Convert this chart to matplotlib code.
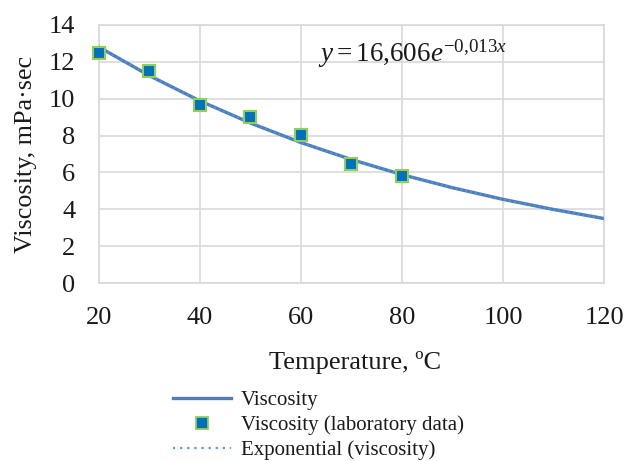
import matplotlib
matplotlib.use("Agg")
import matplotlib.pyplot as plt
from matplotlib.lines import Line2D

plt.rcParams['font.family'] = ['Liberation Serif', 'DejaVu Serif']
plt.rcParams['mathtext.fontset'] = 'custom'
plt.rcParams['mathtext.rm'] = 'Liberation Serif'
plt.rcParams['mathtext.it'] = 'Liberation Serif:italic'

# laboratory data
lab_temp = [20, 30, 40, 50, 60, 70, 80]
lab_visc = [12.5, 11.5, 9.65, 9.0, 8.05, 6.45, 5.8]

# viscosity curve
curve_temp = [20, 30, 40, 50, 60, 70, 80, 90, 100, 110, 120]
curve_visc = [12.8, 11.25, 9.88, 8.68, 7.62, 6.70, 5.88, 5.17, 4.54, 3.99, 3.50]

x_ticks = [20, 40, 60, 80, 100, 120]
y_ticks = [0, 2, 4, 6, 8, 10, 12, 14]

fig = plt.figure(figsize=(6.28, 4.61), dpi=100)
ax = fig.add_axes([0.1576, 0.3861, 0.8042, 0.5597])

line_col = '#4a7ec0'
ax.plot(curve_temp, curve_visc, color=line_col, lw=2.4, zorder=3)
ax.plot(curve_temp, curve_visc, color='#5b9bd5', lw=1.2, ls=(0, (1, 2)), zorder=3.5)
ax.plot(lab_temp, lab_visc, ls='none', marker='s', ms=8.5, mfc='#0070c0',
        mec='#92d050', mew=1.5, zorder=4, clip_on=False)

ax.set_xlim(20, 120)
ax.set_ylim(0, 14)
ax.set_xticks(x_ticks)
ax.set_yticks(y_ticks)
ax.grid(True, color='#d9d9d9', lw=1.2)
ax.set_axisbelow(True)
for s in ax.spines.values():
    s.set_color('#d9d9d9')
    s.set_linewidth(1.2)
ax.tick_params(length=0, labelsize=19, colors='#1a1a1a')
ax.tick_params(axis='x', pad=17)
ax.tick_params(axis='y', pad=17)
ax.set_xlabel('Temperature, ºC', fontsize=19, color='#1a1a1a')
ax.xaxis.set_label_coords(0.508, -0.265)
ax.set_ylabel('Viscosity, mPa·sec', fontsize=18.8, color='#1a1a1a', labelpad=8.5)

ax.text(0.433, 0.86, r'$y = 16{,}606e^{-0{,}013x}$', transform=ax.transAxes,
        fontsize=19.5, color='#1a1a1a', va='baseline', ha='left')

handles = [
    Line2D([], [], color=line_col, lw=2.4),
    Line2D([], [], ls='none', marker='s', ms=8, mfc='#0070c0', mec='#92d050', mew=1.3),
    Line2D([], [], color='#5b9bd5', lw=1.6, ls=(0, (1, 2.2))),
]
labels = ['Viscosity', 'Viscosity (laboratory data)', 'Exponential (viscosity)']
fig.legend(handles, labels, loc='upper left', bbox_to_anchor=(0.2755, 0.153),
           frameon=False, fontsize=15, handlelength=2.8, labelspacing=0.25,
           handletextpad=0.45, borderpad=0, borderaxespad=0, labelcolor='#1a1a1a')

fig.savefig('out.png', dpi=100)
